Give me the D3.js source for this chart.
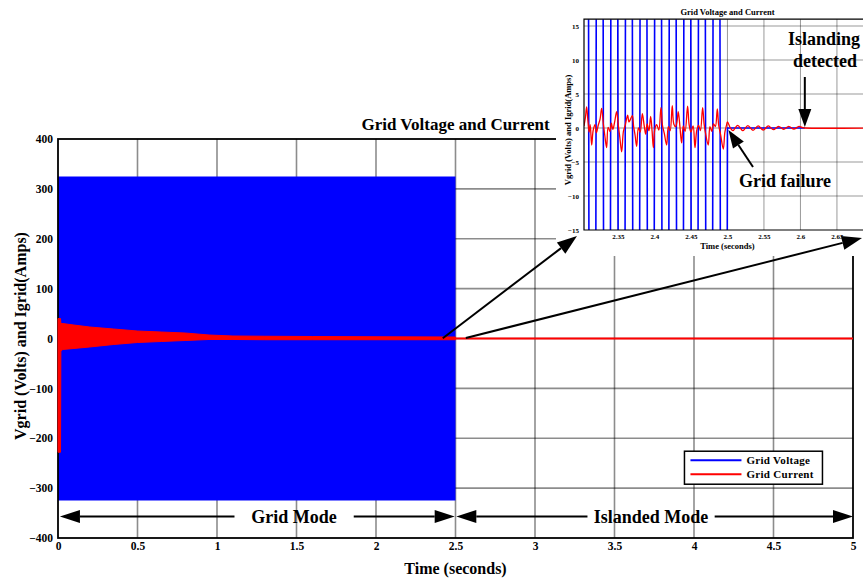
<!DOCTYPE html>
<html>
<head>
<meta charset="utf-8">
<title>Grid Voltage and Current</title>
<script src="https://cdn.jsdelivr.net/npm/d3@7"></script>
<style>
  body { margin: 0; background: #fff; }
  svg { display: block; font-family: "Liberation Serif", "Times New Roman", serif; font-weight: bold; }
</style>
</head>
<body>
<svg width="863" height="580"></svg>
<script>
// ---- main plot ----
var mainXTicks = [0, 0.5, 1, 1.5, 2, 2.5, 3, 3.5, 4, 4.5, 5];
var mainYTicks = [-400, -300, -200, -100, 0, 100, 200, 300, 400];

// grid voltage envelope (grid connected, 0 - 2.5 s)
var voltT  = [0, 2.5];
var voltHi = [325, 325];
var voltLo = [-325, -325];

// grid current envelope while grid connected
var curT  = [0, 0.016, 0.018, 0.03, 0.1, 0.2, 0.35, 0.5, 0.65, 0.8, 0.95, 1.1, 1.3, 1.6, 2.0, 2.5];
var curHi = [40, 40, 30, 30, 27, 23, 19, 15, 13, 11, 7, 5, 4.5, 4, 3.5, 3];
var curLo = [-228, -228, -25, -22, -20, -17, -12, -8, -6, -4, -2, -2, -2.5, -2.5, -2.5, -2.5];

// current after the grid is lost
var islT = [2.5, 5];
var islI = [0, 0];

// ---- zoom inset ----
var insetXTicks = [2.35, 2.4, 2.45, 2.5, 2.55, 2.6, 2.65];
var insetYTicks = [-15, -10, -5, 0, 5, 10, 15];

var insetVoltT = [2.305, 2.315, 2.325, 2.335, 2.345, 2.355, 2.365, 2.375, 2.385, 2.395,
                  2.405, 2.415, 2.425, 2.435, 2.445, 2.455, 2.465, 2.475, 2.485, 2.495, 2.5, 2.606];
var insetVoltV = [325, -325, 325, -325, 325, -325, 325, -325, 325, -325,
                  325, -325, 325, -325, 325, -325, 325, -325, 325, -325, 0, 0];

var insetCurT = [2.3035, 2.3055, 2.3071, 2.3090, 2.3105, 2.3120, 2.3140, 2.3160, 2.3185, 2.3205,
                 2.3230, 2.3255, 2.3277, 2.3300, 2.3320, 2.3345, 2.3365, 2.3390, 2.3410, 2.3430,
                 2.3455, 2.3482, 2.3505, 2.3525, 2.3551, 2.3575, 2.3600, 2.3633, 2.3650, 2.3668,
                 2.3697, 2.3715, 2.3735, 2.3756, 2.3780, 2.3805, 2.3834, 2.3860, 2.3880, 2.3900,
                 2.3925, 2.3948, 2.3968, 2.3985, 2.4005, 2.4030, 2.4060, 2.4089, 2.4110, 2.4135,
                 2.4167, 2.4190, 2.4215, 2.4244, 2.4265, 2.4290, 2.4310, 2.4326, 2.4350, 2.4372,
                 2.4395, 2.4420, 2.4454, 2.4475, 2.4500, 2.4530, 2.4555, 2.4580, 2.4605, 2.4630,
                 2.4660, 2.4680, 2.4700, 2.4737, 2.4760, 2.4785, 2.4810, 2.4835, 2.4861, 2.4880,
                 2.4905, 2.4943, 2.4965, 2.4985, 2.5000,
                 2.5040, 2.5075, 2.5140, 2.5210, 2.5280, 2.5350, 2.5420, 2.5490, 2.5560, 2.5630,
                 2.5700, 2.5770, 2.5840, 2.5910, 2.5980, 2.6030, 2.6060, 2.7000];
var insetCurI = [0.3, 1.6, 3.1, 0.9, -0.6, 0.5, -2.5, -0.4, 0.5, -0.7,
                 0.4, 1.3, 2.9, 0.6, -1.1, -2.9, 0.1, -0.5, 0.7, -0.2,
                 0.9, 2.4, 0.4, -1.3, -3.5, -0.5, 0.4, 1.9, 0.9, 1.2,
                 1.8, 0.2, -1.1, -2.7, 0.0, -0.6, 2.1, 0.3, -0.9, 0.6,
                 -0.4, 1.7, -0.5, -2.9, -0.2, 0.5, -0.3, 3.0, 0.4, -0.8,
                 -2.5, 0.2, -0.4, 3.3, 0.6, 0.2, 1.0, 2.4, 0.1, -2.2,
                 0.3, -0.5, 3.2, 0.5, -0.6, 0.3, -2.9, -0.3, 0.4, -0.4,
                 3.0, 0.6, -0.8, -2.5, 0.2, -0.5, 0.6, 0.2, 2.8, 0.4,
                 -0.9, -3.1, -0.6, 0.3, 0.9,
                 0.0, -0.4, 0.4, -0.4, 0.35, -0.35, 0.3, -0.3, 0.3, -0.25,
                 0.25, -0.2, 0.25, -0.15, 0.25, 0.05, 0.0, 0.0];

var failTime = 2.5;
var detectTime = 2.606;

var svg = d3.select("svg");
var blue = "#0000ff", red = "#ff0000";

// scales
var x = d3.scaleLinear().domain([0, 5]).range([58, 853]);
var y = d3.scaleLinear().domain([-400, 400]).range([538, 139]);

var ix = d3.scaleLinear().domain([2.3035, 2.7]).range([584, 584 + 0.3965 * 730]);
var iy = d3.scaleLinear().domain([-15, 16]).range([230, 230 - 31 * 6.8]);

// grid lines
var grid = svg.append("g").attr("class", "grid");
grid.selectAll(".gx").data(mainXTicks.slice(1, -1)).enter().append("line")
  .attr("x1", function(d) { return x(d); }).attr("x2", function(d) { return x(d); })
  .attr("y1", y(400)).attr("y2", y(-400));
grid.selectAll(".gy").data(mainYTicks.slice(1, -1)).enter().append("line")
  .attr("y1", function(d) { return y(d); }).attr("y2", function(d) { return y(d); })
  .attr("x1", x(0)).attr("x2", x(5));
grid.selectAll("line").attr("stroke", "rgba(0,0,0,0.45)").attr("stroke-width", 1.6);

// ---- main data ----
var vArea = d3.area()
  .x(function(d) { return x(d[0]); })
  .y0(function(d) { return y(d[2]); })
  .y1(function(d) { return y(d[1]); });

svg.append("path")
  .datum(voltT.map(function(t, i) { return [t, voltHi[i], voltLo[i]]; }))
  .attr("fill", blue)
  .attr("d", vArea);

svg.append("rect")
  .attr("x", x(0)).attr("y", y(400))
  .attr("width", x(5) - x(0)).attr("height", y(-400) - y(400))
  .attr("fill", "none").attr("stroke", "#000").attr("stroke-width", 1.8);

svg.append("path")
  .datum(curT.map(function(t, i) { return [t, curHi[i], curLo[i]]; }))
  .attr("fill", red)
  .attr("stroke", red)
  .attr("stroke-width", 1)
  .attr("d", vArea);

svg.append("path")
  .datum(islT.map(function(t, i) { return [t, islI[i]]; }))
  .attr("fill", "none")
  .attr("stroke", red)
  .attr("stroke-width", 2)
  .attr("d", d3.line().x(function(d) { return x(d[0]); }).y(function(d) { return y(d[1]); }));

// axes
var xAxis = svg.append("g")
  .attr("transform", "translate(0," + y(-400) + ")")
  .call(d3.axisBottom(x).tickValues(mainXTicks).tickSize(0).tickPadding(4).tickFormat(d3.format("")));
var yAxis = svg.append("g")
  .attr("transform", "translate(" + x(0) + ",0)")
  .call(d3.axisLeft(y).tickValues(mainYTicks).tickSize(0).tickPadding(5));
[xAxis, yAxis].forEach(function(a) {
  a.select(".domain").remove();
  a.selectAll("text").attr("font-size", 11.5).attr("font-family", "Liberation Serif").attr("font-weight", "bold").attr("fill", "#000");
});

svg.append("text")
  .attr("x", (x(0) + x(5)) / 2).attr("y", 130)
  .attr("text-anchor", "middle").attr("font-size", 17)
  .text("Grid Voltage and Current");

svg.append("text")
  .attr("x", (x(0) + x(5)) / 2).attr("y", 574)
  .attr("text-anchor", "middle").attr("font-size", 16)
  .text("Time (seconds)");

svg.append("text")
  .attr("transform", "translate(26," + 336 + ") rotate(-90)")
  .attr("text-anchor", "middle").attr("font-size", 16)
  .text("Vgrid (Volts) and Igrid(Amps)");

// legend
var lg = svg.append("g").attr("transform", "translate(" + x(3.94) + "," + y(-226) + ")");
lg.append("rect").attr("width", 138).attr("height", 33)
  .attr("fill", "#fff").attr("stroke", "#000").attr("stroke-width", 1.5);
[["Grid Voltage", blue], ["Grid Current", red]].forEach(function(e, i) {
  lg.append("line").attr("x1", 6).attr("x2", 57)
    .attr("y1", 9 + i * 14).attr("y2", 9 + i * 14)
    .attr("stroke", e[1]).attr("stroke-width", 2);
  lg.append("text").attr("x", 62).attr("y", 13 + i * 14)
    .attr("font-size", 11).attr("letter-spacing", 0.3).text(e[0]);
});

// arrows helper
function arrow(g, x1, y1, x2, y2, len, half) {
  var a = Math.atan2(y2 - y1, x2 - x1);
  var bx = x2 - len * Math.cos(a), by = y2 - len * Math.sin(a);
  g.append("line").attr("x1", x1).attr("y1", y1).attr("x2", bx).attr("y2", by)
    .attr("stroke", "#000").attr("stroke-width", 2);
  var px = -Math.sin(a) * half, py = Math.cos(a) * half;
  g.append("path")
    .attr("d", "M" + x2 + "," + y2 + "L" + (bx + px) + "," + (by + py) + "L" + (bx - px) + "," + (by - py) + "Z")
    .attr("fill", "#000");
}

// mode annotations
var modeY = y(-357);
var ann = svg.append("g");
function modeArrow(t0, t1, label, tl, tr) {
  arrow(ann, x(tl), modeY, x(t0), modeY, 20, 6.5);
  arrow(ann, x(tr), modeY, x(t1), modeY, 20, 6.5);
  ann.append("text").attr("x", (x(tl) + x(tr)) / 2).attr("y", modeY + 6.5)
    .attr("text-anchor", "middle").attr("font-size", 18).text(label);
}
modeArrow(0.012, 2.495, "Grid Mode", 1.11, 1.86);
modeArrow(2.505, 5, "Islanded Mode", 3.33, 4.13);

// ---- inset ----
var ins = svg.append("g");
ins.append("rect").attr("x", 556).attr("y", 0).attr("width", 307).attr("height", 256).attr("fill", "#fff");

svg.append("defs").append("clipPath").attr("id", "iclip")
  .append("rect").attr("x", ix(2.3035)).attr("y", iy(16))
  .attr("width", ix(2.7) - ix(2.3035)).attr("height", iy(-15) - iy(16));

var ig = ins.append("g");
ig.selectAll(".igx").data(insetXTicks).enter().append("line")
  .attr("x1", function(d) { return ix(d); }).attr("x2", function(d) { return ix(d); })
  .attr("y1", iy(16)).attr("y2", iy(-15));
ig.selectAll(".igy").data(insetYTicks.slice(1)).enter().append("line")
  .attr("y1", function(d) { return iy(d); }).attr("y2", function(d) { return iy(d); })
  .attr("x1", ix(2.3035)).attr("x2", 863);
ig.selectAll("line").attr("stroke", "rgba(0,0,0,0.4)").attr("stroke-width", 1);

var iline = d3.line().x(function(d) { return ix(d[0]); }).y(function(d) { return iy(d[1]); });
var idata = ins.append("g").attr("clip-path", "url(#iclip)");
idata.append("path")
  .datum(insetVoltT.map(function(t, i) { return [t, insetVoltV[i]]; }))
  .attr("fill", "none").attr("stroke", blue).attr("stroke-width", 1.6)
  .attr("d", iline);
idata.append("path")
  .datum(insetCurT.map(function(t, i) { return [t, insetCurI[i]]; }))
  .attr("fill", "none").attr("stroke", red).attr("stroke-width", 1.3)
  .attr("d", iline.curve(d3.curveCatmullRom));

// inset frame (right side falls outside the picture)
ins.append("path")
  .attr("d", "M" + 863 + "," + iy(16) + "H" + ix(2.3035) + "V" + iy(-15) + "H" + 863)
  .attr("fill", "none").attr("stroke", "#000").attr("stroke-width", 1.2);

var ixAxis = ins.append("g").attr("transform", "translate(0," + iy(-15) + ")")
  .call(d3.axisBottom(ix).tickValues(insetXTicks).tickSize(0).tickPadding(4).tickFormat(d3.format("")));
var iyAxis = ins.append("g").attr("transform", "translate(" + ix(2.3035) + ",0)")
  .call(d3.axisLeft(iy).tickValues(insetYTicks).tickSize(0).tickPadding(5));
[ixAxis, iyAxis].forEach(function(a) {
  a.select(".domain").remove();
  a.selectAll("text").attr("font-size", 7).attr("font-family", "Liberation Serif").attr("font-weight", "bold").attr("fill", "#000");
});

ins.append("text").attr("x", ix(2.5)).attr("y", 15)
  .attr("text-anchor", "middle").attr("font-size", 8.5).text("Grid Voltage and Current");
ins.append("text").attr("x", ix(2.5)).attr("y", 249)
  .attr("text-anchor", "middle").attr("font-size", 8.5).text("Time (seconds)");
ins.append("text").attr("transform", "translate(571," + 130 + ") rotate(-90)")
  .attr("text-anchor", "middle").attr("font-size", 8.5).text("Vgrid (Volts) and Igrid(Amps)");

// inset callouts
ins.append("text").attr("x", 824).attr("y", 45).attr("text-anchor", "middle").attr("font-size", 18).text("Islanding");
ins.append("text").attr("x", 825).attr("y", 67).attr("text-anchor", "middle").attr("font-size", 18).text("detected");
arrow(ins, ix(detectTime), 77, ix(detectTime), iy(0) - 1, 18, 6.5);

ins.append("text").attr("x", 785).attr("y", 187).attr("text-anchor", "middle").attr("font-size", 18).text("Grid failure");
arrow(ins, 753, 167, ix(failTime) + 1, iy(0) + 2, 18, 6.5);

// connectors from main plot to the inset
arrow(svg, x(2.42), y(0.5), ix(2.3035) - 7, iy(-15) + 6, 20, 7);
arrow(svg, x(2.565), y(1), 862, 238, 20, 7);
</script>
</body>
</html>
